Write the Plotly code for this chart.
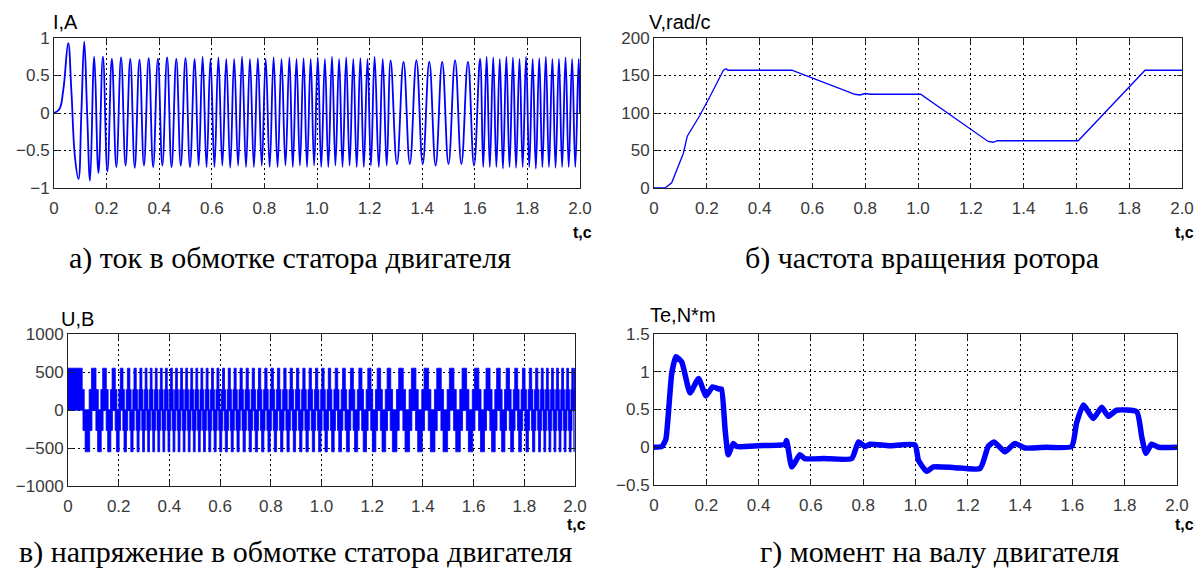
import plotly.graph_objects as go

W, H = 1203, 573
BLUE = '#0000FF'

# ---------------- data ----------------
# a) stator current: extremum points (t, A)
i_t = [0, 0.02, 0.035, 0.054, 0.066, 0.080, 0.093, 0.104, 0.115, 0.126, 0.137, 0.153, 0.169, 0.186, 0.203,
       0.220, 0.237, 0.255, 0.272, 0.290, 0.307, 0.325, 0.342, 0.360, 0.377, 0.395, 0.412, 0.430, 0.447,
       0.465, 0.482, 0.500, 0.517, 0.535, 0.550, 0.565, 0.580, 0.595, 0.610, 0.625, 0.640, 0.655, 0.670,
       0.685, 0.700, 0.715, 0.730, 0.745, 0.760, 0.775, 0.790, 0.805, 0.820, 0.835, 0.850, 0.865, 0.880,
       0.895, 0.908, 0.922, 0.935, 0.949, 0.962, 0.976, 0.989, 1.003, 1.016, 1.030, 1.043, 1.057, 1.070,
       1.084, 1.097, 1.111, 1.124, 1.138, 1.151, 1.165, 1.178, 1.192, 1.205, 1.219, 1.235, 1.250, 1.265,
       1.280, 1.304, 1.329, 1.353, 1.378, 1.402, 1.427, 1.451, 1.476, 1.500, 1.525, 1.549, 1.574, 1.597,
       1.620, 1.632, 1.645, 1.657, 1.670, 1.682, 1.695, 1.707, 1.720, 1.732, 1.745, 1.757, 1.770, 1.782,
       1.795, 1.807, 1.820, 1.832, 1.845, 1.857, 1.870, 1.882, 1.895, 1.907, 1.920, 1.932, 1.945, 1.957,
       1.970, 1.982, 1.995, 2.0]
i_v = [0, 0.05, 0.30, 0.93, 0.30, -0.60, -0.88, 0.0, 0.95, 0.0, -0.90, 0.75, -0.80, 0.75, -0.78,
       0.72, -0.72, 0.74, -0.70, 0.72, -0.73, 0.71, -0.70, 0.73, -0.72, 0.72, -0.70, 0.74, -0.72,
       0.72, -0.70, 0.73, -0.72, 0.72, -0.70, 0.75, -0.72, 0.72, -0.72, 0.74, -0.70, 0.72, -0.73,
       0.72, -0.70, 0.75, -0.72, 0.72, -0.72, 0.73, -0.70, 0.72, -0.72, 0.74, -0.72, 0.72, -0.70,
       0.74, -0.72, 0.72, -0.70, 0.73, -0.72, 0.72, -0.70, 0.74, -0.72, 0.72, -0.72, 0.75, -0.70,
       0.72, -0.72, 0.74, -0.70, 0.72, -0.72, 0.73, -0.72, 0.72, -0.70, 0.75, -0.72, 0.72, -0.70,
       0.70, -0.68, 0.68, -0.68, 0.70, -0.68, 0.68, -0.70, 0.68, -0.68, 0.70, -0.68, 0.68, -0.70,
       0.72, -0.72, 0.75, -0.72, 0.74, -0.72, 0.72, -0.74, 0.75, -0.72, 0.74, -0.73, 0.72, -0.72,
       0.75, -0.72, 0.72, -0.74, 0.73, -0.72, 0.75, -0.72, 0.72, -0.73, 0.72, -0.72, 0.74, -0.72,
       0.72, -0.72, 0.72, 0.0]

# b) rotor speed (t, rad/s)
v_t = [0, 0.042, 0.067, 0.111, 0.126, 0.174, 0.212, 0.263, 0.273, 0.280, 0.522, 0.761, 0.780, 0.800,
       0.820, 1.010, 1.266, 1.285, 1.300, 1.607, 1.860, 2.0]
v_v = [0, 0, 7, 46, 69, 97, 122, 157, 159, 157, 157, 125, 124, 126, 125, 125, 62, 61, 63, 63, 157, 157]

# c) stator voltage: first block, then start times of each inverter cycle (negative half first)
u_first_t = [0, 0.056, 0.064]
u_first_v = [550, 270, 0]
u_cycles = [0.064, 0.114, 0.154, 0.189, 0.219, 0.246, 0.271, 0.293, 0.313, 0.333, 0.353, 0.373, 0.393,
            0.413, 0.433, 0.453, 0.473, 0.493, 0.513, 0.533, 0.554, 0.575, 0.597, 0.619, 0.642, 0.665,
            0.689, 0.713, 0.737, 0.762, 0.787, 0.812, 0.837, 0.862, 0.887, 0.912, 0.937, 0.962, 0.987,
            1.012, 1.038, 1.066, 1.096, 1.128, 1.162, 1.198, 1.236, 1.276, 1.326, 1.376, 1.426, 1.476,
            1.526, 1.576, 1.624, 1.668, 1.708, 1.744, 1.776, 1.805, 1.831, 1.855, 1.876, 1.896, 1.916,
            1.936, 1.956, 1.976, 1.996]
u_levels = [270, 550]

# d) electromagnetic torque (t, N*m)
te_t = [0, 0.03, 0.045, 0.055, 0.068, 0.084, 0.106, 0.138, 0.17, 0.199, 0.224, 0.25, 0.258, 0.272, 0.284,
        0.303, 0.316, 0.40, 0.501, 0.507, 0.527, 0.558, 0.577, 0.65, 0.756, 0.782, 0.807, 0.826, 0.9,
        0.998, 1.011, 1.043, 1.068, 1.15, 1.247, 1.278, 1.301, 1.342, 1.38, 1.419, 1.5, 1.597, 1.616,
        1.642, 1.68, 1.712, 1.737, 1.769, 1.846, 1.865, 1.881, 1.903, 1.93, 2.0]
te_v = [0, 0.01, 0.1, 0.45, 0.98, 1.2, 1.13, 0.72, 0.91, 0.68, 0.80, 0.77, 0.77, 0.23, -0.1,
        0.05, 0.01, 0.02, 0.04, 0.09, -0.26, -0.1, -0.15, -0.15, -0.15, 0.07, 0.01, 0.04, 0.02,
        0.03, -0.17, -0.32, -0.26, -0.27, -0.28, 0.01, 0.07, -0.06, 0.05, -0.01, 0.0, 0.01, 0.32,
        0.56, 0.38, 0.53, 0.41, 0.49, 0.47, 0.14, -0.08, 0.04, 0.0, 0.0]

x_ticks = [0, 0.2, 0.4, 0.6, 0.8, 1.0, 1.2, 1.4, 1.6, 1.8, 2.0]
x_tick_text = ['0', '0.2', '0.4', '0.6', '0.8', '1.0', '1.2', '1.4', '1.6', '1.8', '2.0']

# ---------------- build voltage blocks (PWM-filled step pyramids) ----------------
lo, hi = u_levels
W_LO, W_HI = 0.72, 0.36          # block widths as fraction of the cycle
ux = [u_first_t[0], u_first_t[0], u_first_t[1], u_first_t[1], u_first_t[2], u_first_t[2], u_first_t[0], None]
uy = [0, u_first_v[0], u_first_v[0], u_first_v[1], u_first_v[1], 0, 0, None]
for k in range(len(u_cycles)):
    t0 = u_cycles[k]
    t1 = u_cycles[k + 1] if k + 1 < len(u_cycles) else 2.0
    P = t1 - t0
    for s, c in ((-1, t0 + P / 4), (1, t0 + 3 * P / 4)):
        a_lo, b_lo = c - W_LO * P / 2, c + W_LO * P / 2
        a_hi, b_hi = c - W_HI * P / 2, c + W_HI * P / 2
        a_lo, b_lo = max(a_lo, t0 - P * 0.1), min(b_lo, 2.0)
        b_hi = min(b_hi, 2.0)
        ux += [a_lo, a_lo, a_hi, a_hi, b_hi, b_hi, b_lo, b_lo, a_lo, None]
        uy += [0, s * lo, s * lo, s * hi, s * hi, s * lo, s * lo, 0, 0, None]

fig = go.Figure()
fig.add_trace(go.Scatter(x=i_t, y=i_v, mode='lines',
                         line=dict(color=BLUE, width=1.8, shape='spline', smoothing=1.2),
                         xaxis='x', yaxis='y', hoverinfo='skip'))
fig.add_trace(go.Scatter(x=v_t, y=v_v, mode='lines', line=dict(color=BLUE, width=1.3),
                         xaxis='x2', yaxis='y2', hoverinfo='skip'))
fig.add_trace(go.Scatter(x=[0, 2], y=[0, 0], mode='lines', line=dict(color=BLUE, width=1.2),
                         xaxis='x3', yaxis='y3', hoverinfo='skip'))
fig.add_trace(go.Scatter(x=ux, y=uy, mode='lines', fill='toself', fillcolor=BLUE,
                         line=dict(color=BLUE, width=0.8), xaxis='x3', yaxis='y3', hoverinfo='skip'))
fig.add_trace(go.Scatter(x=te_t, y=te_v, mode='lines',
                         line=dict(color=BLUE, width=5.5, shape='spline', smoothing=0.5),
                         xaxis='x4', yaxis='y4', hoverinfo='skip'))


def px(x):
    return x / W


def py(y):
    return 1 - y / H


TICKFONT = dict(family='Liberation Sans, Arial', size=17, color='#3a3a3a')
GRID = dict(showgrid=True, gridcolor='#000000', gridwidth=1, griddash='2px,3px', zeroline=False,
            ticks='inside', ticklen=5, tickcolor='#202020', showline=True, linecolor='#202020',
            linewidth=1, mirror='ticks', tickfont=TICKFONT, automargin=False)


def xa(l, r, anchor):
    d = dict(GRID)
    d.update(domain=[px(l), px(r)], anchor=anchor, range=[0, 2], tickvals=x_ticks, ticktext=x_tick_text,
             ticklabelstandoff=5)
    return d


def ya(t, b, anchor, rng, dtick):
    d = dict(GRID)
    d.update(domain=[py(b), py(t)], anchor=anchor, range=rng, dtick=dtick, tick0=rng[0])
    return d


fig.update_layout(
    width=W, height=H, margin=dict(l=0, r=0, t=0, b=0, pad=0, autoexpand=False),
    paper_bgcolor='white', plot_bgcolor='white', showlegend=False,
    xaxis=xa(54, 580, 'y'), yaxis=ya(38, 188, 'x', [-1, 1], 0.5),
    xaxis2=xa(654, 1182, 'y2'), yaxis2=ya(38, 188, 'x2', [0, 200], 50),
    xaxis3=xa(68, 575, 'y3'), yaxis3=ya(334, 486, 'x3', [-1000, 1000], 500),
    xaxis4=xa(654, 1177, 'y4'), yaxis4=ya(334, 485, 'x4', [-0.5, 1.5], 0.5),
)

ann = []


def text(x, y, s, size, family='Liberation Sans, Arial', bold=False, anchor='left'):
    ann.append(dict(x=px(x), y=py(y), xref='paper', yref='paper', text=('<b>%s</b>' % s) if bold else s,
                    showarrow=False, xanchor=anchor, yanchor='middle',
                    font=dict(family=family, size=size, color='black')))


text(51, 22, 'I,A', 20)
text(647, 22, 'V,rad/c', 20)
text(59, 319, 'U,B', 20)
text(648, 315, 'Te,N*m', 20)
for x, y in ((582, 232), (1184, 232), (576, 524), (1184, 524)):
    text(x, y, 't,c', 16, bold=True, anchor='center')
SERIF = 'Liberation Serif, Times New Roman'
text(290, 258, 'а) ток в обмотке статора двигателя', 30, SERIF, anchor='center')
text(922, 258, 'б) частота вращения ротора', 30, SERIF, anchor='center')
text(296, 552, 'в) напряжение в обмотке статора двигателя', 30, SERIF, anchor='center')
text(940, 552, 'г) момент на валу двигателя', 30, SERIF, anchor='center')
fig.update_layout(annotations=ann)

fig.write_html('out.html', config={'displayModeBar': False},
               post_script="document.body.style.margin='0';")
